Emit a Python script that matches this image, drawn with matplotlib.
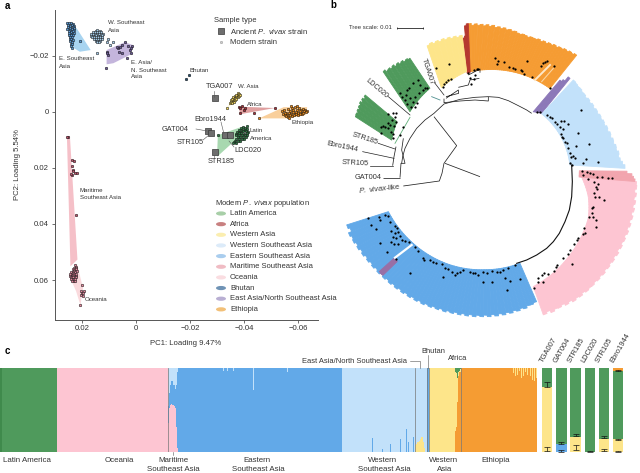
import numpy as np
import matplotlib
matplotlib.use('Agg')
import matplotlib.pyplot as plt
from matplotlib.collections import PolyCollection
from matplotlib.patches import Ellipse, Polygon

plt.rcParams['font.family'] = ['Liberation Sans', 'DejaVu Sans']
plt.rcParams['mathtext.fontset'] = 'custom'
plt.rcParams['mathtext.rm'] = 'Liberation Sans'
plt.rcParams['mathtext.it'] = 'Liberation Sans:italic'

TXT = '#333333'
GREEN = '#4f9a5c'
PINK = '#fdc5d2'
LBLUE = '#c2e1fa'
BLUE = '#62a9e8'
YELLOW = '#fde58a'
ORANGE = '#f59c33'
PURPLE = '#8c78b8'
DRED = '#b5382f'

# ---- panel a: PCA
pc_xticks = [0.02, 0, -0.02, -0.04, -0.06]
pc_xlabels = ['0.02', '0', '\u22120.02', '\u22120.04', '\u22120.06']
pc_yticks = [-0.02, 0, 0.02, 0.04, 0.06]
pc_ylabels = ['\u22120.02', '0', '0.02', '0.04', '0.06']

ese_x = [.0255,.0248,.0240,.0232,.0253,.0245,.0237,.0229,.0251,.0243,.0235,.0228,.0254,.0246,.0238,.0231,.0250,.0242,.0234,.0247,.0239,.0231,.0249,.0241,.0233,.0244,.0236,.0246,.0240,.0234,.0243,.0238,.0241,.0236,.0240,.0209,.0236]
ese_y = [-.0316,-.0316,-.0316,-.0315,-.0309,-.0308,-.0309,-.0307,-.0302,-.0301,-.0302,-.0300,-.0295,-.0294,-.0295,-.0294,-.0288,-.0287,-.0288,-.0281,-.0280,-.0281,-.0274,-.0273,-.0274,-.0267,-.0266,-.0260,-.0259,-.0258,-.0252,-.0251,-.0244,-.0243,-.0236,-.0253,-.0227]
wse_x = [.0150,.0143,.0135,.0160,.0152,.0145,.0137,.0128,.0168,.0160,.0153,.0145,.0137,.0130,.0122,.0168,.0158,.0150,.0142,.0135,.0127,.0163,.0155,.0147,.0140,.0132,.0125,.0157,.0150,.0142,.0134,.0127,.0150,.0143,.0135,.0145,.0138,.0106,.0103,.0087,.0146,.0098]
wse_y = [-.0290,-.0291,-.0290,-.0284,-.0285,-.0284,-.0285,-.0284,-.0278,-.0279,-.0278,-.0279,-.0278,-.0279,-.0278,-.0272,-.0272,-.0273,-.0272,-.0272,-.0273,-.0266,-.0266,-.0267,-.0266,-.0266,-.0267,-.0260,-.0260,-.0261,-.0260,-.0260,-.0254,-.0254,-.0255,-.0248,-.0248,-.0251,-.0262,-.0248,-.0212,-.0240]
eas_x = [.0109,.0103,.0066,.0059,.0041,.0053,.0028,.0016,.0022,.0020,.0062,.0053,.0035,.0111,.0072,.0018,.0108]
eas_y = [-.0215,-.0204,-.0227,-.0233,-.0249,-.0239,-.0236,-.0236,-.0221,-.0212,-.0215,-.0210,-.0192,-.0158,-.0233,-.0228,-.0210]
bhu_x = [-.0185, -.0198]
bhu_y = [-.0119, -.0132]
wa_x = [-.0349,-.0353,-.0357,-.0352,-.0358,-.0362,-.0356,-.0362,-.0367,-.0361,-.0366,-.0372,-.0366,-.0372,-.0377,-.0371,-.0376,-.0381,-.0376,-.0381,-.0385,-.0337]
wa_y = [-.0032,-.0036,-.0031,-.0041,-.0041,-.0036,-.0047,-.0046,-.0042,-.0052,-.0051,-.0047,-.0057,-.0056,-.0052,-.0062,-.0061,-.0056,-.0066,-.0065,-.0060,-.0015]
afr_x = [-.0380,-.0386,-.0399,-.0386,-.0405,-.0438,-.0514,-.0392]
afr_y = [-.0019,-.0013,-.0007,.0005,-.0015,.0002,-.0014,-.0021]
eth_x = [-.0541,-.0548,-.0555,-.0562,-.0569,-.0576,-.0583,-.0590,-.0597,-.0604,-.0611,-.0618,-.0625,-.0632,-.0545,-.0552,-.0559,-.0566,-.0573,-.0580,-.0587,-.0594,-.0601,-.0608,-.0615,-.0622,-.0629,-.0550,-.0557,-.0564,-.0571,-.0578,-.0585,-.0592,-.0599,-.0606,-.0613,-.0620,-.0575,-.0595,-.0565,-.0456]
eth_y = [-.0002,-.0008,.0002,-.0010,-.0003,-.0013,-.0006,-.0016,-.0008,-.0014,-.0006,-.0012,-.0008,-.0004,.0006,.0002,.0010,.0003,.0008,.0000,.0006,.0000,.0004,-.0002,.0002,-.0002,.0000,.0012,.0014,.0018,.0010,.0016,.0012,.0008,.0010,.0006,.0008,.0004,-.0022,-.0020,.0023,.0023]
lat_x = [-.0395,-.0388,-.0402,-.0380,-.0392,-.0404,-.0412,-.0375,-.0385,-.0396,-.0407,-.0416,-.0370,-.0380,-.0390,-.0400,-.0410,-.0372,-.0383,-.0393,-.0403,-.0412,-.0376,-.0386,-.0397,-.0407,-.0372,-.0381,-.0391,-.0400,-.0368,-.0376,-.0385,-.0362,-.0303,-.0370,-.0358,-.0410]
lat_y = [.0052,.0058,.0057,.0063,.0063,.0063,.0062,.0070,.0070,.0069,.0069,.0070,.0077,.0076,.0076,.0077,.0076,.0083,.0083,.0083,.0082,.0083,.0089,.0089,.0089,.0089,.0096,.0096,.0095,.0096,.0103,.0102,.0103,.0106,.0083,.0110,.0112,.0050]
mar_x = [.0251,.0256,.0239,.0230,.0239,.0235,.0236,.0226,.0220,.0223,.0232,.0241]
mar_y = [.0088,.0089,.0170,.0176,.0194,.0206,.0224,.0218,.0218,.0367,.0210,.0222]
oce_x = [.0226,.0224,.0230,.0224,.0233,.0228,.0222,.0240,.0235,.0230,.0225,.0220,.0243,.0238,.0233,.0228,.0223,.0243,.0238,.0233,.0228,.0222,.0242,.0237,.0232,.0227,.0222,.0240,.0235,.0230,.0225,.0236,.0231,.0226,.0199,.0202,.0193,.0202,.0198,.0206,.0200,.0196]
oce_y = [.0545,.0552,.0556,.0558,.0562,.0563,.0562,.0570,.0570,.0569,.0570,.0569,.0577,.0577,.0576,.0577,.0577,.0584,.0584,.0583,.0584,.0584,.0591,.0591,.0590,.0591,.0590,.0598,.0598,.0597,.0598,.0605,.0605,.0604,.0617,.0640,.0638,.0652,.0656,.0690,.0645,.0648]
anc_x = [-.0291, -.0267, -.0279, -.0328, -.0348, -.0291]
anc_y = [-.0051, .0067, .0074, .0081, .0083, .0143]

hull_ese = [(.0251,-.0299),(.0220,-.0299),(.0168,-.0221),(.0208,-.0215),(.0239,-.0233)]
hull_eas = [(.0109,-.0221),(.0041,-.0249),(.0012,-.0239),(.0022,-.0204),(.0084,-.0174),(.0109,-.0170)]
hull_wa = [(-.0337,-.0015),(-.0375,-.0066),(-.0388,-.0060),(-.0350,-.0025)]
hull_afr = [(-.0380,-.0019),(-.0514,-.0014),(-.0386,.0008)]
hull_eth = [(-.0456,.0023),(-.0547,-.0017),(-.0634,-.0017),(-.0628,.0011),(-.0560,.0023)]
hull_lat = [(-.0303,.0083),(-.0300,.0160),(-.0362,.0106),(-.0417,.0058),(-.0386,.0055)]
hull_mar = [(.0256,.0086),(.0245,.0086),(.0217,.0527),(.0243,.0551)]
hull_oce = [(.0245,.0590),(.0218,.0545),(.0196,.0630),(.0206,.0690),(.0222,.0640)]

# ---- panel b: tree, layout units are 1/3 pixel, centre of the fan at 516,510
fan_cx, fan_cy = 516, 510
r_orange = [428,424,426,422,424,420,421,417,420,416,418,414,417,413,417,414,415,416,413,416,418,416,418,422,421,425,423,428,425,430,428,434,431,436,433,438,436,441,438,444]
r_dred = [445,440,410,405]
r_yellow = [414,411,416,413,418,415,420,416,421,418,423,420]
r_green1 = [416,420,418,424,422,428,425,432,429,434,433,440]
r_green2 = [442,438,444,440,445,441,443,439,442,438,441,440]
r_purple = [361,345,338]
r_lblue = [399,392,386,382,384,378,379,374,375,370,372,367,369,364,366,362,364,360,362,358,361,357,360,356,359,358,361,360,362,364]
r_dpink = [430,425,420,405]
r_pink = [461,456,463,458,460,456,462,458,464,460,463,458,462,459,460,456,459,455,458,453,456,452,455,450,454,448,452,447,450,445,449,443,447,441,445,439,443,437,441,435,439,433,437,435]
r_blue = [466,460,470,465,468,462,466,460,464,458,462,457,461,456,460,455,459,454,458,453,457,452,456,451,455,450,454,449,453,448,451,446,449,444,448,443,446,441,445,440,444,439,443,438,441,436,440,434,438,432,436,430,433,427,430,424,427,421,421,417]
r_band = [455,456,455]

tree_x = [525,533,531,552,568,585,580,603,607,620,612,635,663,670,675,680,703,690,470,475,462,445,465,450,462,452,
          388,347,392,385,378,372,370,
          320,293,280,268,262,240,258,270,285,298,310,255,280,262,272,285,290,245,315,300,
          204,220,228,225,215,228,205,188,182,195,210,222,205,183,212,218,220,250,240,
          783,682,690,695,705,712,720,722,732,745,730,722,725,730,735,742,775,807,767,745,750,752,760,765,750,755,798,788,833,650,660,
          785,790,800,810,820,830,847,865,875,805,822,833,828,830,822,825,838,852,818,815,815,808,818,828,828,793,795,790,775,770,762,750,745,730,755,710,708,703,683,672,665,653,655,670,642,
          143,178,180,195,205,153,168,210,225,230,213,225,235,240,218,228,245,255,268,213,222,235,180,200,285,295,228,310,312,330,340,348,365,270,375,385,395,410,420,430,450,465,475,370,490,500,515,530,550,565,585,600,555,570,490,515,560,405,460,540]
tree_y = [175,182,192,187,200,208,205,210,213,183,222,232,198,190,185,182,198,263,208,207,210,220,225,235,238,252,
          193,205,237,240,245,252,260,
          265,240,248,265,270,280,285,295,290,280,270,300,305,312,320,322,308,292,265,255,
          342,338,340,352,360,365,368,378,382,380,375,378,385,400,395,403,415,380,405,
          330,345,350,355,365,372,380,362,362,373,388,402,410,415,425,430,398,432,438,445,460,470,468,475,490,495,477,488,487,335,337,
          513,525,517,520,523,530,530,535,535,537,547,553,560,567,580,590,592,600,620,625,638,650,652,660,682,685,698,703,715,720,733,750,763,775,793,795,800,813,823,820,825,833,845,845,863,
          653,650,660,645,648,675,687,665,678,685,693,700,695,707,710,715,720,723,727,727,733,733,728,755,740,753,778,773,780,780,785,790,793,820,805,807,815,820,815,810,815,818,825,830,815,820,813,815,810,803,795,837,835,843,847,845,870,825,820,815]

branches = [
    ([245,248,255,270,290,315,342,372,420,465,505], [490,470,445,415,385,360,340,312,298,292,290]),
    ([505,535,565,595,620,635], [290,292,302,317,330,340]),
    ([372,372,420,465,505,505], [296,308,303,300,303,290]),
    ([342,410,372,366,358,250], [350,437,490,520,543,558]),
    ([375,480], [490,530]),
    ([378,415,416,378], [295,270,280,290]),
    ([415,445,450,478], [262,255,240,235]),
    ([445,480,480], [225,207,218]),
    ([240,243,255,245,250], [533,490,490,450,415]),
    ([218,222,228], [497,470,440]),
    ([190,240], [533,533]),
]
main_arc_x = [755,757,755,748,735,718,700,680,650,620,590]
main_arc_y = [495,545,590,630,665,700,725,745,765,780,790]
thin_x = [225,270]
thin_y = [430,352]
tree_leads = [
    ([345,372], [250,285]),
    ([205,270], [290,345]),
    ([175,225], [430,447]),
    ([128,222], [455,475]),
    ([150,218], [497,497]),
]

# ---- panel c: ancestry, one column per pixel-wide block of samples
groups = ['lat', 'oce', 'mar', 'ese', 'wse', 'eas', 'bhu', 'wa', 'afr', 'eth']
group_n = [57, 111, 10, 164, 73, 12, 2, 26, 6, 76]
group_major = [0, 1, 2, 3, 2, 2, 3, 4, 4, 5]
comp_colors = [GREEN, PINK, LBLUE, BLUE, YELLOW, ORANGE]

mar_pink = [.35,.52,.56,.57,.56,.56,.55,.52,.30,.05]
mar_light = [.45,.30,.20,.15,.15,.20,.20,.25,.20,.05]
afr_orange = [.25,.30,.60,.90,.95,.95]
afr_green = [.05,.06,.12,.05,.03,.01]
eas_yellow = [.08,.10,.12,.12,.13,.15,.18,.18,.12,.05,0,0]
ese_spike_col = [223,227,233,253,287]
ese_spike_h = [.04,.04,.03,.26,.05]
wse_spike_col = [372,382,390,400,406,408,413]
wse_spike_h = [.17,.04,.10,.15,.27,.12,.18]
eth_patch_col = [513,515,517,519,521,523,525,527,530,532,534,536]
eth_patch_h = [.06,.10,.08,.03,.12,.09,.05,.08,.10,.14,.16,.12]

anc_names = ['TGA007', 'GAT004', 'STR185', 'LDC020', 'STR105', 'Ebro1944']
anc_green = [.23, .90, .825, .995, .85, .82]
anc_blue = [0, .09, 0, 0, 0, 0]
anc_yellow = [.77, .01, .175, .005, .15, .15]
anc_orange = [0, 0, 0, 0, 0, .03]
err_x = [0, 0, 1, 1, 2, 2, 3, 4, 4, 5, 5, 5]
err_y = [.80, .04, .11, .015, .205, .05, .005, .18, .02, .145, .01, .975]
err_h = [.03, .025, .012, .01, .015, .028, .003, .012, .012, .006, .005, .006]

fig = plt.figure(figsize=(6.4, 4.73), dpi=100)


def add_px_axes(x0, y0, x1, y1):
    return fig.add_axes([x0 / 640, 1 - y1 / 473, (x1 - x0) / 640, (y1 - y0) / 473])


# panel a
ax = add_px_axes(54.5, 10, 318, 319.5)
ax.set_xlim(0.0302, -0.0674)
ax.set_ylim(0.0741, -0.0364)
for hull, col in [(hull_ese, '#a8d4f0'), (hull_eas, '#c4b5dc'), (hull_wa, '#fbeeb0'),
                  (hull_afr, '#dfa0a0'), (hull_eth, '#f9cf9b'), (hull_lat, '#a8d8b0'),
                  (hull_mar, '#f5c0c8'), (hull_oce, '#fadadd')]:
    ax.add_patch(Polygon(hull, closed=True, fc=col, ec='none', zorder=1))
for xs, ys, col in [(ese_x, ese_y, '#5b9bd5'), (wse_x, wse_y, '#a9d0ee'), (eas_x, eas_y, '#6d5c9a'),
                    (bhu_x, bhu_y, '#27506f'), (wa_x, wa_y, '#f5d75e'), (afr_x, afr_y, '#a8323c'),
                    (eth_x, eth_y, '#e98a1c'), (lat_x, lat_y, '#2f7a45'), (mar_x, mar_y, '#c0566e'),
                    (oce_x, oce_y, '#e58aa0')]:
    ax.scatter(xs, ys, s=3.5, c=col, edgecolors='#111111', linewidths=0.35, zorder=3)
ax.scatter(anc_x, anc_y, s=22, marker='s', c='#6e6e6e', edgecolors='#3a3a3a', linewidths=0.5, zorder=4)
ax.set_xticks(pc_xticks, pc_xlabels)
ax.set_yticks(pc_yticks, pc_ylabels)
ax.tick_params(labelsize=5.6, length=2.5, width=0.5, pad=1.5, colors=TXT)
for s in ['top', 'right']:
    ax.spines[s].set_visible(False)
for s in ['left', 'bottom']:
    ax.spines[s].set_linewidth(0.7)
    ax.spines[s].set_color('#555555')
ax.patch.set_alpha(0)

# panel b
axb = add_px_axes(320, 0, 640, 340)
axb.set_xlim(0, 960)
axb.set_ylim(1020, 0)
axb.axis('off')


def sector(a_out, a_in, r_out, r_in, col, z=1):
    n = len(r_out)
    t = np.radians(np.linspace(a_out[0], a_out[1], n + 1))
    u = np.radians(np.linspace(a_in[0], a_in[1], n + 1))
    ri = np.interp(np.arange(n + 1), np.linspace(0, n, len(r_in)), r_in)
    polys = []
    for i in range(n):
        polys.append([(fan_cx + ri[i] * np.cos(u[i]), fan_cy - ri[i] * np.sin(u[i])),
                      (fan_cx + r_out[i] * np.cos(t[i]), fan_cy - r_out[i] * np.sin(t[i])),
                      (fan_cx + r_out[i] * np.cos(t[i + 1]), fan_cy - r_out[i] * np.sin(t[i + 1])),
                      (fan_cx + ri[i + 1] * np.cos(u[i + 1]), fan_cy - ri[i + 1] * np.sin(u[i + 1]))])
    axb.add_collection(PolyCollection(polys, facecolors=col, edgecolors=col, linewidths=0.6, zorder=z))


sector((53.6, 99.2), (54.6, 102.6), r_orange, [300, 302], ORANGE)
sector((99.2, 102.5), (102.6, 104.4), r_dred, [300], DRED)
sector((102.5, 117.6), (104.4, 121.6), r_yellow, [305, 290], YELLOW)
sector((126.3, 137.9), (127.2, 144.6), r_green1, [308, 302], GREEN)
sector((149.4, 158.7), (153, 163.4), r_green2, [320, 314], GREEN)
sector((49.6, 52.9), (48.8, 54.7), r_purple, [226, 214], PURPLE)
sector((0.7, 47.9), (3.7, 48.4), r_lblue, [234, 225], LBLUE)
sector((-70.5, -4.6), (-70.5, -4.6), r_pink, [371, 360, 347, 335, 323, 300, 270], PINK)
sector((-4.6, -0.5), (-4.6, -0.5), r_dpink, [262], '#f2a5ae')
sector((-159.3, -71.3), (-158.1, -73.3), r_blue, [335, 323, 312, 300, 292], BLUE)
sector((-138, -136), (-138, -136), r_band, [395], '#9a6fa6', z=2)
axb.plot([225, 275], [773, 735], color='white', lw=1.6, zorder=2)
axb.plot([645, 690], [240, 195], color='#fde7c8', lw=1.4, zorder=2)
axb.plot([665, 700], [245, 205], color='#fbd49f', lw=0.8, zorder=2)
for xs, ys in branches:
    axb.plot(xs, ys, color='#222222', lw=0.55, zorder=3, solid_capstyle='butt')
axb.plot(main_arc_x, main_arc_y, color='#111111', lw=0.8, zorder=3)
axb.plot(thin_x, thin_y, color='#5fae78', lw=0.6, zorder=3)
axb.plot([335, 360], [290, 300], color='#4f8f8f', lw=0.6, zorder=3)
for xs, ys in tree_leads:
    axb.plot(xs, ys, color='#222222', lw=0.5, zorder=3)
axb.scatter(tree_x, tree_y, s=2.6, c='black', linewidths=0, zorder=4)
axb.plot([230, 310], [85, 85], color='#222222', lw=0.6, marker='|', ms=2, mew=0.5)
axb.text(150, 83, 'Tree scale: 0.01', fontsize=4.3, color=TXT, ha='center', va='center')
for x, y, s, rot in [(322, 215, 'TGA007', -72), (170, 265, 'LDC020', -40), (135, 415, 'STR185', -18),
                     (67, 442, 'Ebro1944', -12), (105, 491, 'STR105', -3), (143, 531, 'GAT004', 0)]:
    axb.text(x, y, s, fontsize=5.3, color=TXT, ha='center', va='center', rotation=rot)
axb.text(177, 565, r'$\it{P.\ vivax}$-like', fontsize=5.3, color=TXT, ha='center', va='center', rotation=6)

# panel c
n_col = sum(group_n)
Q = np.zeros((n_col, 6))
start = 0
starts = {}
for g, n, m in zip(groups, group_n, group_major):
    Q[start:start + n, m] = 1
    starts[g] = start
    start += n
s = starts['mar']
for i in range(10):
    Q[s + i] = 0
    Q[s + i, 1] = mar_pink[i]
    Q[s + i, 2] = mar_light[i]
    Q[s + i, 3] = 1 - mar_pink[i] - mar_light[i]
s = starts['afr']
for i in range(6):
    Q[s + i] = 0
    Q[s + i, 5] = afr_orange[i]
    Q[s + i, 0] = afr_green[i]
    Q[s + i, 4] = 1 - afr_orange[i] - afr_green[i]
s = starts['eas']
for i in range(12):
    Q[s + i, 4] = eas_yellow[i]
    Q[s + i, 2] = 1 - eas_yellow[i]
for c, h in zip(ese_spike_col, ese_spike_h):
    Q[c, 3] = 1 - h
    Q[c, 2] = h
for c, h in zip(wse_spike_col, wse_spike_h):
    Q[c, 3] = h
    Q[c, 2] = 1 - h
for c, h in zip(eth_patch_col, eth_patch_h):
    Q[c, 5] = 1 - h
    Q[c, 4] = h

axc = add_px_axes(0, 368, 537, 452)
axc.set_xlim(0, n_col)
axc.set_ylim(0, 1)
cols = np.arange(n_col) + 0.5
# order in the stack, bottom first
order = [1, 3, 5, 4, 2, 0]
bottom = np.zeros(n_col)
for k in order:
    axc.bar(cols, Q[:, k], width=1.05, bottom=bottom, color=comp_colors[k], linewidth=0)
    bottom = bottom + Q[:, k]
axc.bar([0.5, 1.5], [1, 1], width=1.05, color='#3f8a4c', linewidth=0)
for x in [168.4, 415, 427, 429, 461]:
    axc.axvline(x, color='#777777', lw=0.5)
axc.axis('off')

axd = add_px_axes(540.1, 368, 625.3, 452)
axd.set_xlim(-0.5, 5.5)
axd.set_ylim(0, 1)
xs = np.arange(6)
axd.bar(xs, anc_blue, width=0.72, color=BLUE)
axd.bar(xs, anc_yellow, width=0.72, bottom=anc_blue, color=YELLOW)
b2 = np.array(anc_blue) + np.array(anc_yellow)
axd.bar(xs, anc_green, width=0.72, bottom=b2, color=GREEN)
axd.bar(xs, anc_orange, width=0.72, bottom=b2 + np.array(anc_green), color=ORANGE)
axd.errorbar(err_x, err_y, yerr=err_h, fmt='none', ecolor='#111111', elinewidth=0.5, capsize=2.2, capthick=0.5)
axd.axis('off')

# overlay in pixel units for labels and keys
ov = fig.add_axes([0, 0, 1, 1], zorder=10)
ov.set_xlim(0, 640)
ov.set_ylim(473, 0)
ov.axis('off')

for x, y, s in [(7, 6, 'a'), (333, 5, 'b'), (7, 351, 'c')]:
    ov.text(x, y, s, fontsize=7, fontweight='bold', color='black', ha='center', va='center')

ov.text(186, 343, 'PC1: Loading 9.47%', fontsize=5.6, color=TXT, ha='center', va='center')
ov.text(18, 165, 'PC2: Loading 5.54%', fontsize=5.6, color=TXT, ha='center', va='center', rotation=90)

small = [(108, 22, 'W. Southeast'), (108, 30, 'Asia'), (59, 58, 'E. Southeast'), (59, 66, 'Asia'),
         (131, 62, 'E. Asia/'), (131, 70, 'N. Southeast'), (131, 77, 'Asia'), (189, 70, 'Bhutan'),
         (238, 87, 'W. Asia'), (247, 104, 'Africa'), (292, 122, 'Ethiopia'), (250, 130, 'Latin'),
         (250, 138, 'America'), (80, 190, 'Maritime'), (80, 197, 'Southeast Asia'), (85, 299, 'Oceania')]
for x, y, s in small:
    ov.text(x, y, s, fontsize=4.4, color=TXT, ha='left', va='center')
strains = [(205.5, 86, 'TGA007'), (194, 119, 'Ebro1944'), (162, 129, 'GAT004'), (176.5, 142, 'STR105'),
           (234, 150, 'LDC020'), (208, 161, 'STR185')]
for x, y, s in strains:
    ov.text(x, y, s, fontsize=5.3, color=TXT, ha='left', va='center')
for xs_, ys_ in [([214, 214], [91, 97]), ([196, 207], [129, 131]), ([203, 209], [140, 135]),
                 ([221, 224], [122, 134]), ([234, 229], [147, 141]), ([214, 214], [158, 155])]:
    ov.plot(xs_, ys_, color='#555555', lw=0.4)

ov.text(214, 20, 'Sample type', fontsize=5.5, color=TXT, va='center')
ov.scatter([221], [31], s=20, marker='s', c='#6e6e6e', edgecolors='#3a3a3a', linewidths=0.5)
ov.text(230, 31, r'Ancient $\it{P.\ vivax}$ strain', fontsize=5.5, color=TXT, va='center')
ov.scatter([221], [42.5], s=3, c='#cfcfcf', edgecolors='#888888', linewidths=0.3)
ov.text(230, 42.5, 'Modern strain', fontsize=5.5, color=TXT, va='center')

pop_names = ['Latin America', 'Africa', 'Western Asia', 'Western Southeast Asia', 'Eastern Southeast Asia',
             'Maritime Southeast Asia', 'Oceania', 'Bhutan', 'East Asia/North Southeast Asia', 'Ethiopia']
pop_cols = ['#a8cfa8', '#c88080', '#fbeeb0', '#dcebf9', '#a9cdee', '#f0bcc4', '#fadde1', '#6f93b5', '#b9afd3', '#f2c078']
ov.text(215, 203, r'Modern $\it{P.\ vivax}$ population', fontsize=5.5, color=TXT, va='center')
for i, (name, col) in enumerate(zip(pop_names, pop_cols)):
    y = 213.5 + 10.65 * i
    ov.add_patch(Ellipse((221, y), 10, 4.2, fc=col, ec='none'))
    ov.text(230, y, name, fontsize=5.5, color=TXT, va='center')

bar_labels = [(27, 460, 'Latin America'), (119, 460, 'Oceania'), (173, 460, 'Maritime'),
              (173, 469, 'Southeast Asia'), (257, 460, 'Eastern'), (258, 469, 'Southeast Asia'),
              (383, 460, 'Western'), (384, 469, 'Southeast Asia'), (444, 460, 'Western'),
              (445, 469, 'Asia'), (496, 460, 'Ethiopia')]
for x, y, s in bar_labels:
    ov.text(x, y, s, fontsize=5.7, color=TXT, ha='center', va='center')
ov.text(407, 361, 'East Asia/North Southeast Asia', fontsize=5.4, color=TXT, ha='right', va='center')
ov.plot([410, 419.5, 419.5], [361, 361, 368], color='#555555', lw=0.4)
ov.text(433, 351, 'Bhutan', fontsize=5.4, color=TXT, ha='center', va='center')
ov.plot([428, 428], [355, 368], color='#555555', lw=0.4)
ov.text(458, 358, 'Africa', fontsize=5.4, color=TXT, ha='center', va='center')
ov.plot([173, 173], [452, 455], color='#555555', lw=0.4)
for i, name in enumerate(anc_names):
    ov.text(544 + 14.2 * i, 364, name, fontsize=5.4, color=TXT, rotation=60, ha='left', va='bottom',
            rotation_mode='anchor')

fig.savefig('out.png', dpi=100)
